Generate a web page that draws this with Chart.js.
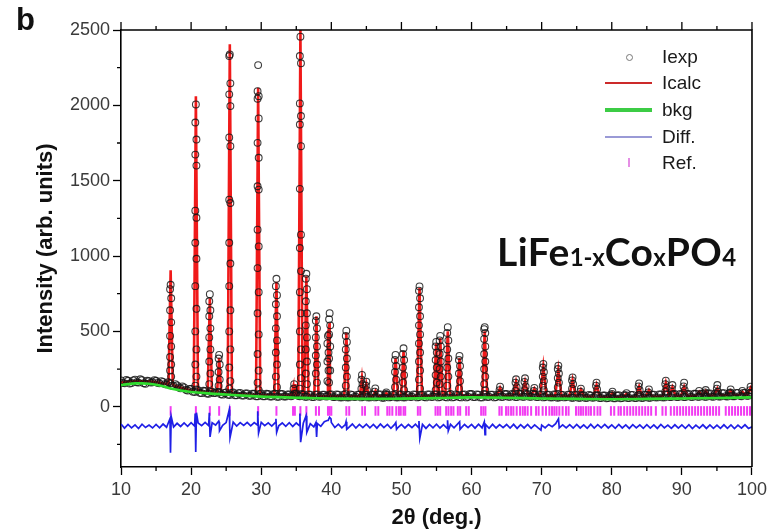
<!DOCTYPE html>
<html>
<head>
<meta charset="utf-8">
<script src="https://cdn.jsdelivr.net/npm/chart.js@4.4.1/dist/chart.umd.min.js"></script>
<style>
html,body{margin:0;padding:0;background:#fff;}
#wrap{position:relative;width:771px;height:529px;overflow:hidden;background:#fff;}
#c{position:absolute;left:0;top:0;}
#panel{position:absolute;left:16px;top:4px;font-family:"Liberation Sans",Arial,sans-serif;font-weight:bold;font-size:31px;line-height:31px;color:#111;}
#formula{position:absolute;left:497px;top:232px;font-family:Lato,"Open Sans",sans-serif;font-weight:bold;font-size:39px;line-height:39px;color:#111;white-space:nowrap;letter-spacing:0.4px;}
#formula sub{font-size:24px;vertical-align:baseline;position:relative;top:0px;letter-spacing:0;}
.lrow{position:absolute;left:600px;height:24px;width:160px;}
.ltext{position:absolute;left:62px;top:0;line-height:24px;font-family:"Liberation Sans",Arial,sans-serif;font-size:19px;color:#1a1a1a;}
.lmark{position:absolute;}
</style>
</head>
<body>
<div id="wrap">
<canvas id="c" width="771" height="529"></canvas>
<div id="panel">b</div>
<div id="legend"></div>
<div id="formula">LiFe<sub>1-x</sub>Co<sub>x</sub>PO<sub>4</sub></div>
</div>
<script>
// ---------- axis ticks ----------
const xTicks = [10, 20, 30, 40, 50, 60, 70, 80, 90, 100];
const xMinor = [15, 25, 35, 45, 55, 65, 75, 85, 95];
const yTicks = [0, 500, 1000, 1500, 2000, 2500];
const yMinor = [-250, 250, 750, 1250, 1750, 2250];

// ---------- legend labels ----------
const legendLabels = ['Iexp', 'Icalc', 'bkg', 'Diff.', 'Ref.'];

// ---------- background (bkg) curve, [2theta, intensity] ----------
const bkgPts = [
  [10,144],[11,150],[12,155],[13,155],[14,152],[15,146],[16,136],[17,122],[18,112],[19,104],
  [20,98],[22,90],[25,81],[28,72],[30,67],[35,60],[38,56],[40,54],[45,52],[50,54],
  [55,57],[60,62],[65,60],[70,55],[75,52],[80,50],[85,52],[90,55],[95,58],[100,62]
];

// ---------- Iexp baseline, sampled every 0.5 deg from 10 to 100 ----------
const expStart = 10, expStep = 0.5;
const expBase = [
  175,155,172,158,180,160,176,152,170,162,
  172,155,165,148,155,138,142,122,128,108,
  118,98,110,90,104,86,100,92,96,80,
  95,78,94,76,92,74,88,72,86,70,
  88,70,84,68,86,66,84,68,82,74,
  88,70,82,66,80,64,82,68,80,70,
  82,64,80,62,84,62,78,66,80,64,
  80,62,78,64,82,60,80,64,78,62,
  82,62,78,66,80,64,80,62,82,66,
  82,64,80,62,84,64,78,62,82,66,
  84,64,80,62,82,66,80,64,82,66,
  84,66,82,64,86,66,84,66,82,64,
  82,64,80,62,82,62,78,64,80,60,
  78,60,76,60,74,62,76,58,74,58,
  74,56,76,58,76,58,78,58,78,60,
  80,60,80,62,82,62,82,64,84,64,
  82,64,84,64,86,66,86,66,88,66,
  88,68,90,68,90,70,92,70,92,72,
  90
];
// ---------- Iexp baseline, intermediate samples from 10.25 to 99.75 ----------
const expStart2 = 10.25;
const expBase2 = [
  158,178,154,175,162,182,156,172,160,176,
  158,170,150,162,140,150,128,135,112,118,
  100,114,92,106,88,100,90,98,82,92,
  80,92,76,90,74,88,72,86,70,84,
  70,86,68,84,66,85,68,82,70,86,
  72,84,66,82,64,80,66,80,68,82,
  64,82,62,80,62,82,64,80,62,80,
  62,80,62,82,60,80,62,80,62,82,
  62,80,64,82,62,80,64,82,64,82,
  62,82,64,80,62,82,64,80,62,84,
  64,82,62,84,64,80,62,82,64,84,
  66,84,64,86,66,84,66,86,64,82,
  62,80,62,82,60,80,62,80,60,78,
  60,76,58,78,60,76,58,74,56,76,
  56,74,56,76,58,78,58,76,58,80,
  60,80,62,82,62,82,64,84,64,84,
  64,84,66,86,66,86,66,88,68,88,
  68,90,70,90,70,92,72,92,72,92
];

// ---------- Iexp points on the Bragg peaks: [position, [intensities]] ----------
const expPeaks = [
  [17.08, [809,780,720,640,560,470,400,330,280,240,200]],
  [20.68, [2006,1886,1773,1673,1600,1301,1254,1088,982,800,650,500,380,280,200,140]],
  [22.67, [747,700,640,600,520,460,380,300,220,150]],
  [24.00, [344,320,280,230,180,140]],
  [25.52, [2338,2327,2146,2073,1995,1787,1729,1374,1352,1088,950,800,640,500,380,260,170,120]],
  [29.56, [2267,2094,2061,2044,1913,1751,1652,1463,1441,1175,1064,920,760,620,480,350,240,160,110]],
  [32.17, [849,800,740,680,600,520,440,360,280,200,130]],
  [34.70, [150,120]],
  [35.59, [2456,2327,2279,2013,1929,1873,1729,1446,1142,1053,900,760,620,500,380,280,190,120]],
  [36.44, [882,850,780,700,620,540,460,380,300,220,150]],
  [37.87, [600,570,520,460,400,340,280,220,160]],
  [39.52, [470,420,360,300,240,170]],
  [39.76, [621,580,540,480,400,320,240,160]],
  [42.14, [505,470,430,380,320,260,200,140]],
  [44.37, [211,180,150,120]],
  [45.00, [166,140,110]],
  [46.27, [122,100]],
  [47.84, [95,85]],
  [49.16, [344,310,270,230,180,130]],
  [50.30, [388,350,310,260,210,160,110]],
  [52.58, [798,770,720,660,600,540,480,420,360,300,240,180,120]],
  [54.96, [430,400,360,310,260,210,160,110]],
  [55.53, [470,440,400,350,300,250,200,150]],
  [56.61, [528,490,440,380,320,260,200,140]],
  [58.28, [337,310,270,220,170,120]],
  [61.88, [528,515,490,450,400,350,300,250,200,150,110]],
  [64.07, [133,110]],
  [66.35, [182,160,130,105]],
  [67.63, [189,165,135,110]],
  [68.96, [125,105]],
  [70.24, [284,260,230,200,170,140,110]],
  [72.38, [273,250,220,190,160,130]],
  [74.41, [195,175,150,120]],
  [75.60, [120,100]],
  [77.83, [160,140,115]],
  [80.10, [100,85]],
  [82.10, [90]],
  [83.90, [155,135,110]],
  [85.30, [115,95]],
  [87.71, [173,150,125,100]],
  [88.65, [144,120]],
  [90.32, [160,135,110]],
  [92.46, [105]],
  [93.40, [111,95]],
  [95.06, [144,120,100]],
  [96.96, [115,95]],
  [98.62, [105]],
  [99.80, [133,110]]
];

// ---------- Icalc: baseline and peaks [position, top, base] ----------
const calcBase = [
  [10,160],[11,165],[12,168],[13,169],[14,168],[15,163],[16,155],[17.5,142],[18.5,128],[19.5,114],
  [20,106],[22,96],[24,89],[26,84],[28,80],[30,76],[33,74],[36,73],[40,70],[45,69],
  [50,70],[55,71],[60,72],[65,73],[70,71],[75,68],[80,64],[85,68],[90,72],[95,76],[100,80]
];
const calcPeaks = [
  [17.08,905,150],[20.68,2060,105],[22.67,720,95],[24.00,325,90],[25.52,2405,87],
  [29.56,2117,78],[32.17,830,75],[34.55,130,74],[34.85,150,74],[35.59,2500,74],
  [36.44,865,73],[37.87,600,72],[39.52,480,70],[39.76,555,70],[42.14,490,70],
  [44.37,190,69],[45.00,150,69],[46.30,105,69],[47.84,90,69],[49.16,322,70],
  [50.30,366,70],[52.58,790,70],[54.96,421,71],[55.53,455,71],[56.61,500,71],
  [58.28,322,72],[61.88,500,72],[64.07,125,72],[66.35,166,73],[67.63,166,73],
  [68.96,120,73],[70.24,266,72],[72.38,244,71],[74.41,177,69],[75.60,115,68],
  [77.83,144,67],[80.10,92,64],[82.10,85,65],[83.90,133,66],[85.30,110,68],
  [87.71,160,70],[88.65,130,71],[90.32,133,72],[92.46,100,73],[93.40,105,74],
  [95.06,122,76],[96.96,108,77],[98.62,100,79],[99.80,125,80]
];

// ---------- Difference curve: baseline every 0.5 deg + features at peaks ----------
const diffStart = 10, diffStep = 0.5;
const diffBase = [
  -115,-142,-118,-140,-120,-145,-116,-138,-122,-141,
  -117,-140,-115,-136,-112,-134,-110,-131,-108,-130,
  -106,-128,-108,-126,-104,-125,-106,-122,-103,-124,
  -105,-126,-102,-128,-106,-124,-104,-127,-105,-123,
  -104,-126,-107,-129,-105,-127,-108,-130,-106,-131,
  -108,-128,-110,-130,-112,-133,-111,-130,-100,-90,
  -105,-138,-116,-140,-118,-137,-115,-141,-117,-139,
  -116,-140,-118,-142,-115,-139,-117,-143,-119,-138,
  -117,-141,-118,-139,-116,-142,-117,-144,-118,-140,
  -116,-141,-119,-143,-117,-140,-115,-142,-118,-139,
  -117,-142,-116,-140,-118,-143,-117,-141,-119,-139,
  -118,-142,-117,-144,-119,-141,-118,-143,-120,-140,
  -122,-141,-118,-132,-112,-136,-120,-140,-119,-142,
  -118,-141,-120,-143,-117,-142,-119,-140,-118,-141,
  -120,-143,-118,-141,-121,-144,-119,-140,-120,-143,
  -119,-142,-121,-144,-118,-141,-122,-143,-120,-142,
  -121,-143,-119,-145,-122,-142,-120,-144,-121,-143,
  -122,-144,-120,-143,-121,-145,-122,-142,-120,-144,
  -133
];
const diffFeatures = [
  [16.98,-80],[17.06,-305],[17.16,-65],
  [20.58,-45],[20.66,-300],[20.76,-40],
  [22.60,-40],[22.70,-200],
  [23.95,-95],[24.05,-160],
  [25.45,-20],[25.55,-205],
  [29.50,-30],[29.62,-175],
  [32.10,-80],[32.20,-170],
  [35.52,-45],[35.62,-235],
  [36.40,-60],[36.50,-170],
  [37.80,-105],[37.90,-200],
  [39.55,-90],[39.75,-70],[39.95,-80],
  [42.10,-100],[42.20,-150],
  [49.20,-105],[49.30,-150],
  [52.50,-95],[52.62,-210],
  [56.58,-90],[56.68,-160],
  [58.30,-100],[58.36,-150],
  [61.82,-100],[61.92,-185],
  [69.90,-155],
  [72.40,-80],[72.50,-140]
];

// ---------- Reference (Bragg) positions ----------
const refPositions = [
  17.08,20.68,22.67,24.00,25.52,29.56,32.17,34.54,34.80,35.59,36.44,37.80,38.24,39.52,39.76,40.00,
  42.14,42.55,44.41,44.80,46.30,46.70,47.98,48.30,48.70,49.26,49.64,49.90,50.30,50.54,
  52.34,52.68,54.86,55.19,55.53,56.38,56.71,57.09,57.42,58.04,58.38,59.23,59.60,
  61.37,61.69,61.98,63.97,64.30,64.92,65.25,65.64,65.97,66.44,66.92,67.30,67.63,68.00,68.50,
  69.20,69.57,70.14,70.62,71.10,71.48,71.81,72.13,72.52,72.99,73.47,73.84,74.90,75.27,75.60,
  75.93,76.32,76.69,77.03,77.50,77.97,78.36,79.88,80.35,80.96,81.30,81.77,82.20,82.63,83.06,
  83.48,83.91,84.34,84.77,85.19,85.62,86.29,87.23,87.71,88.42,88.90,89.32,89.75,90.18,90.60,
  91.03,91.46,91.89,92.31,92.74,93.17,93.60,94.02,94.45,94.88,95.31,96.26,96.73,97.16,97.59,
  98.01,98.44,98.87,99.30,99.72
];
const refLevel = -28;

// ---------- build library data ----------
const halfWidth = p => (p < 45 ? 0.3 : p < 62 ? 0.35 : 0.45);

const calcData = [];
calcBase.forEach(([x, y]) => {
  if (!calcPeaks.some(p => Math.abs(p[0] - x) < halfWidth(p[0]) + 0.05)) calcData.push({x, y});
});
calcPeaks.forEach(([p, top, base]) => {
  const w = halfWidth(p);
  calcData.push({x: p - w, y: base}, {x: p, y: top}, {x: p + w, y: base});
});
calcData.sort((a, b) => a.x - b.x);

const expData = expBase.map((y, i) => ({x: expStart + i * expStep, y}))
  .concat(expBase2.map((y, i) => ({x: expStart2 + i * expStep, y})));
expPeaks.forEach(([p, hs]) => {
  hs.forEach((h, i) => {
    const dx = i === 0 ? 0 : (i % 2 ? -0.08 : 0.08);
    expData.push({x: p + dx, y: h});
  });
});

const diffData = diffBase.map((y, i) => ({x: diffStart + i * diffStep, y}))
  .concat(diffFeatures.map(([x, y]) => ({x, y})))
  .sort((a, b) => a.x - b.x);

const bkgData = bkgPts.map(([x, y]) => ({x, y}));
const refData = refPositions.map(x => ({x, y: refLevel}));

// ---------- frame / minor ticks plugin ----------
const framePlugin = {
  id: 'frame',
  afterDraw(chart) {
    const {ctx, chartArea: a, scales: {x, y}} = chart;
    ctx.save();
    ctx.strokeStyle = '#000';
    ctx.lineWidth = 1.6;
    ctx.beginPath();
    ctx.moveTo(a.left, a.top);
    ctx.lineTo(a.right, a.top);
    ctx.lineTo(a.right, a.bottom);
    ctx.stroke();
    ctx.lineWidth = 1.3;
    ctx.beginPath();
    xTicks.forEach(v => { const px = x.getPixelForValue(v); ctx.moveTo(px, a.top); ctx.lineTo(px, a.top - 8); });
    xMinor.forEach(v => {
      const px = x.getPixelForValue(v);
      ctx.moveTo(px, a.top); ctx.lineTo(px, a.top - 4);
      ctx.moveTo(px, a.bottom); ctx.lineTo(px, a.bottom + 4);
    });
    yMinor.forEach(v => { const py = y.getPixelForValue(v); ctx.moveTo(a.left, py); ctx.lineTo(a.left - 4, py); });
    ctx.stroke();
    ctx.restore();
  }
};

Chart.defaults.font.family = '"Liberation Sans", Arial, sans-serif';

new Chart(document.getElementById('c'), {
  type: 'scatter',
  data: {
    datasets: [
      {label: legendLabels[2], type: 'line', data: bkgData, borderColor: '#2fdc2f', borderWidth: 2.6,
       pointRadius: 0, cubicInterpolationMode: 'monotone', order: 0},
      {label: legendLabels[0], type: 'scatter', data: expData, pointStyle: 'circle', pointRadius: 3.4,
       borderColor: 'rgba(20,20,20,0.82)', backgroundColor: 'rgba(0,0,0,0)', borderWidth: 1.1, order: 1},
      {label: legendLabels[1], type: 'line', data: calcData, borderColor: '#f01a1a', borderWidth: 2.6,
       pointRadius: 0, order: 2},
      {label: legendLabels[3], type: 'line', data: diffData, borderColor: '#1f1fe6', borderWidth: 1.7,
       pointRadius: 0, order: 3},
      {label: legendLabels[4], type: 'scatter', data: refData, pointStyle: 'line', rotation: 90,
       pointRadius: 4.8, borderColor: '#f23cf2', borderWidth: 2, order: 4}
    ]
  },
  options: {
    responsive: false,
    animation: false,
    devicePixelRatio: 1,
    events: [],
    layout: {padding: {left: 29, right: 18, top: 30, bottom: 0}},
    plugins: {legend: {display: false}, tooltip: {enabled: false}},
    scales: {
      x: {
        type: 'linear', min: 10, max: 100,
        afterBuildTicks: s => { s.ticks = xTicks.map(v => ({value: v})); },
        afterFit: s => { s.height = 62; },
        ticks: {font: {size: 18}, color: '#3a3a3a', padding: 4, maxRotation: 0, autoSkip: false,
                callback: v => String(v)},
        grid: {drawOnChartArea: false, drawTicks: true, tickLength: 8, tickWidth: 1.3, tickColor: '#000'},
        border: {display: true, color: '#000', width: 1.6},
        title: {display: true, text: '2θ (deg.)', color: '#111', padding: 0,
                font: {size: 22, weight: 'bold', lineHeight: 1}}
      },
      y: {
        type: 'linear', min: -400, max: 2500,
        afterBuildTicks: s => { s.ticks = yTicks.map(v => ({value: v})); },
        afterFit: s => { s.width = 92; },
        ticks: {font: {size: 18}, color: '#3a3a3a', padding: 3, callback: v => String(v)},
        grid: {drawOnChartArea: false, drawTicks: true, tickLength: 8, tickWidth: 1.3, tickColor: '#000'},
        border: {display: true, color: '#000', width: 1.6},
        title: {display: true, text: 'Intensity (arb. units)', color: '#111', padding: 6,
                font: {size: 22, weight: 'bold', lineHeight: 1}}
      }
    }
  },
  plugins: [framePlugin]
});

// ---------- legend (HTML overlay) ----------
const legendMarkers = [
  {kind: 'circle', color: '#777'},
  {kind: 'line', color: '#cc2a2a', w: 2},
  {kind: 'line', color: '#3ccc45', w: 3.5},
  {kind: 'line', color: '#9a9ad6', w: 1.5},
  {kind: 'tick', color: '#e58ee5'}
];
const legendTops = [45, 71, 98, 125, 151];
const legendEl = document.getElementById('legend');
legendLabels.forEach((txt, i) => {
  const row = document.createElement('div');
  row.className = 'lrow';
  row.style.top = legendTops[i] + 'px';
  const m = document.createElement('span');
  m.className = 'lmark';
  const mk = legendMarkers[i];
  if (mk.kind === 'circle') {
    Object.assign(m.style, {left: '26px', top: '9px', width: '5px', height: '5px', border: '1px solid ' + mk.color, borderRadius: '50%'});
  } else if (mk.kind === 'line') {
    Object.assign(m.style, {left: '5px', top: (12 - mk.w / 2) + 'px', width: '47px', height: mk.w + 'px', background: mk.color});
  } else {
    Object.assign(m.style, {left: '28px', top: '7px', width: '2px', height: '9px', background: mk.color});
  }
  const t = document.createElement('span');
  t.className = 'ltext';
  t.textContent = txt;
  row.appendChild(m);
  row.appendChild(t);
  legendEl.appendChild(row);
});
</script>
</body>
</html>
